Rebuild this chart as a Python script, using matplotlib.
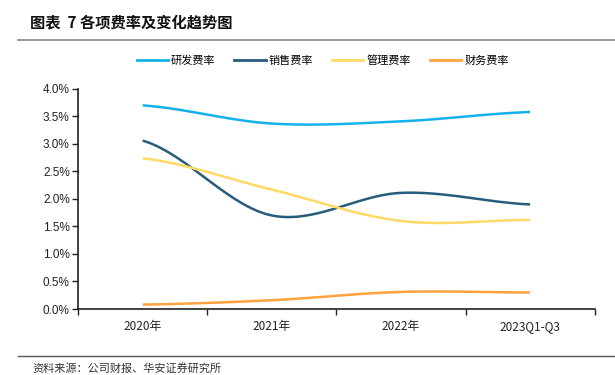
import numpy as np
import matplotlib
matplotlib.use("Agg")
import matplotlib.pyplot as plt
from matplotlib.lines import Line2D

plt.rcParams["font.family"] = ["Noto Sans CJK SC", "DejaVu Sans"]

categories = ["2020年", "2021年", "2022年", "2023Q1-Q3"]
rd_rate = [3.70, 3.37, 3.41, 3.58]
sales_rate = [3.06, 1.70, 2.11, 1.90]
admin_rate = [2.74, 2.17, 1.60, 1.62]
fin_rate = [0.08, 0.16, 0.31, 0.30]

series_names = ["研发费率", "销售费率", "管理费率", "财务费率"]
colors = ["#14B1EC", "#265C7C", "#FFD966", "#FFA23F"]


def smooth(y, n=40):
    # Catmull-Rom style smoothing (similar to Excel smoothed line)
    y = np.asarray(y, dtype=float)
    x = np.arange(len(y), dtype=float)
    p = np.concatenate([[y[0]], y, [y[-1]]])
    xs, ys = [], []
    for i in range(len(y) - 1):
        p0, p1, p2, p3 = p[i], p[i + 1], p[i + 2], p[i + 3]
        t = np.linspace(0, 1, n, endpoint=(i == len(y) - 2))
        m1 = (p2 - p0) / 2
        m2 = (p3 - p1) / 2
        h00 = 2 * t**3 - 3 * t**2 + 1
        h10 = t**3 - 2 * t**2 + t
        h01 = -2 * t**3 + 3 * t**2
        h11 = t**3 - t**2
        ys.append(h00 * p1 + h10 * m1 + h01 * p2 + h11 * m2)
        xs.append(x[i] + t)
    return np.concatenate(xs), np.concatenate(ys)


fig = plt.figure(figsize=(6.15, 3.75), dpi=100)
ax = fig.add_axes([0.127, 0.176, 0.84, 0.587])

for vals, c in zip([rd_rate, sales_rate, admin_rate, fin_rate], colors):
    xs, ys = smooth(vals)
    ax.plot(xs, np.array(ys) / 100, color=c, lw=1.8, solid_capstyle="butt")

ax.set_xlim(-0.5, 3.5)
ax.set_ylim(0, 0.04)
ax.set_yticks(np.arange(0, 0.0401, 0.005))
ax.set_yticklabels([f"{v:.1f}%" for v in np.arange(0, 4.01, 0.5)], fontsize=8.5,
                   family=["Liberation Sans", "DejaVu Sans"], color="#222222")
ax.set_xticks([-0.5, 0.5, 1.5, 2.5, 3.5])
ax.set_xticklabels([])
ax.set_xticks(range(len(categories)), minor=True)
ax.set_xticklabels(categories, minor=True, fontsize=8.5, color="#222222")
ax.tick_params(axis="x", which="minor", length=0, pad=8)
ax.tick_params(axis="x", which="major", length=4, width=1, color="#222222")
ax.tick_params(axis="y", length=4, width=1, color="#222222", pad=2)
for s in ["top", "right"]:
    ax.spines[s].set_visible(False)
for s in ["left", "bottom"]:
    ax.spines[s].set_linewidth(1.2)
    ax.spines[s].set_color("#222222")

handles = [Line2D([], [], color=c, lw=2) for c in colors]
fig.legend(handles, series_names, loc="center", bbox_to_anchor=(0.525, 0.838), ncol=4,
           frameon=False, fontsize=8, handlelength=2.8, columnspacing=1.7,
           handletextpad=0.3)

fig.text(0.049, 0.94, "图表  7 各项费率及变化趋势图", fontsize=11, fontweight="bold",
         va="center", ha="left", color="#111111")
fig.add_artist(Line2D([0.03, 1.0], [0.893, 0.893], color="#888888", lw=1.2))
fig.add_artist(Line2D([0.03, 1.0], [0.051, 0.051], color="#555555", lw=1.0))
fig.text(0.053, 0.018, "资料来源：公司财报、华安证券研究所", fontsize=8, va="center",
         ha="left", color="#333333")

fig.savefig("out.png", dpi=100)
